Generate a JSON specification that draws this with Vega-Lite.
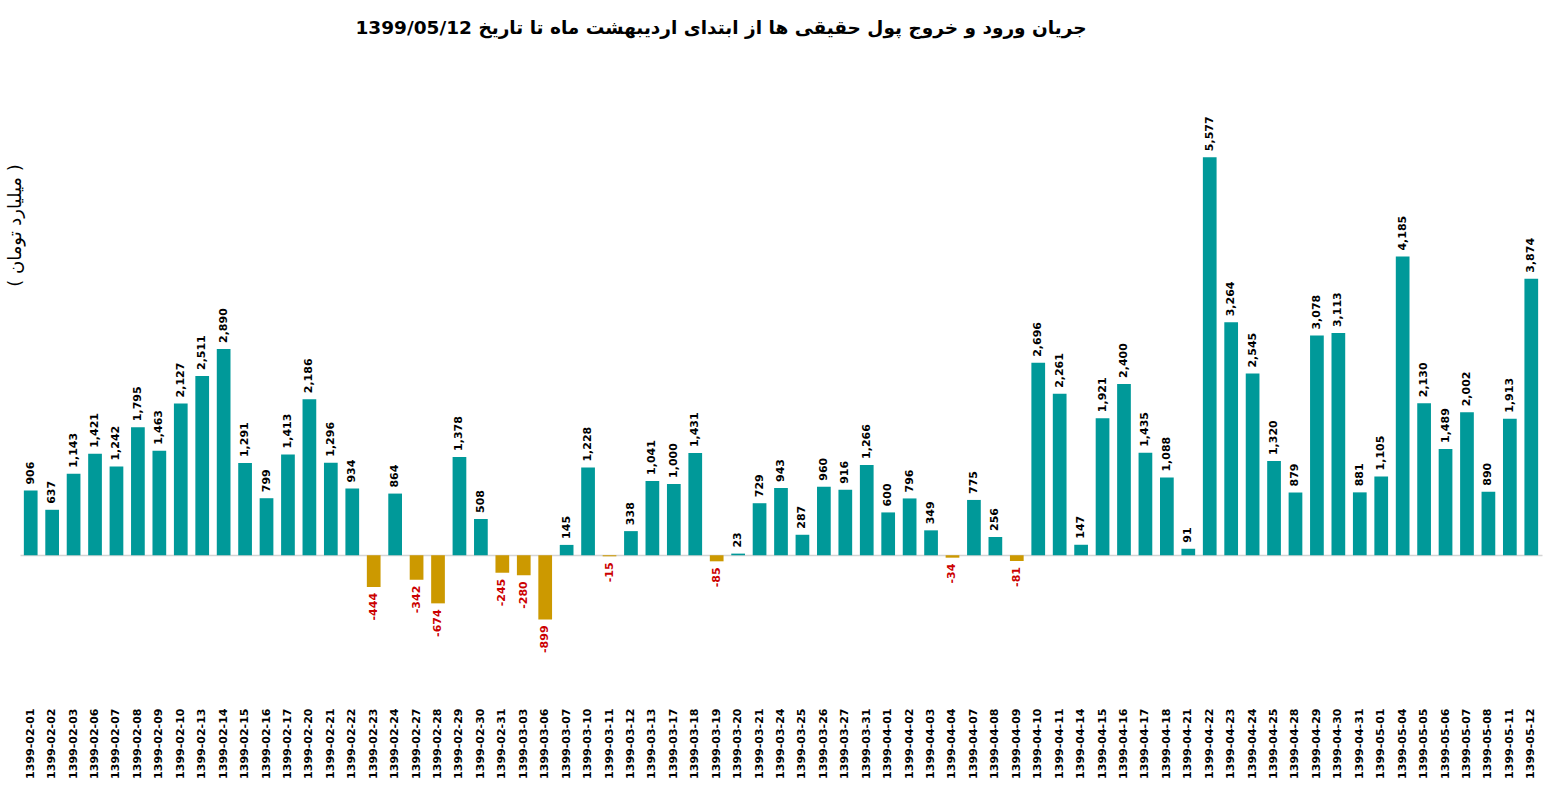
{
  "$schema": "https://vega.github.io/schema/vega-lite/v6.json",
  "autosize": "none",
  "padding": {"left": 20, "top": 127, "right": 8, "bottom": 99},
  "width": 1522,
  "height": 571,
  "config": {
    "view": {"stroke": null},
    "font": "DejaVu Sans"
  },
  "title": {
    "text": "جریان ورود و خروج پول حقیقی ها از ابتدای اردیبهشت ماه تا تاریخ 1399/05/12",
    "font": "DejaVu Sans",
    "fontSize": 18.5,
    "fontWeight": "bold",
    "color": "#000000",
    "frame": "group",
    "anchor": "middle",
    "baseline": "alphabetic",
    "offset": 64,
    "dx": -60
  },
  "data": {
    "values": [
      {"date": "1399-02-01", "value": 906},
      {"date": "1399-02-02", "value": 637},
      {"date": "1399-02-03", "value": 1143},
      {"date": "1399-02-06", "value": 1421},
      {"date": "1399-02-07", "value": 1242},
      {"date": "1399-02-08", "value": 1795},
      {"date": "1399-02-09", "value": 1463},
      {"date": "1399-02-10", "value": 2127},
      {"date": "1399-02-13", "value": 2511},
      {"date": "1399-02-14", "value": 2890},
      {"date": "1399-02-15", "value": 1291},
      {"date": "1399-02-16", "value": 799},
      {"date": "1399-02-17", "value": 1413},
      {"date": "1399-02-20", "value": 2186},
      {"date": "1399-02-21", "value": 1296},
      {"date": "1399-02-22", "value": 934},
      {"date": "1399-02-23", "value": -444},
      {"date": "1399-02-24", "value": 864},
      {"date": "1399-02-27", "value": -342},
      {"date": "1399-02-28", "value": -674},
      {"date": "1399-02-29", "value": 1378},
      {"date": "1399-02-30", "value": 508},
      {"date": "1399-02-31", "value": -245},
      {"date": "1399-03-03", "value": -280},
      {"date": "1399-03-06", "value": -899},
      {"date": "1399-03-07", "value": 145},
      {"date": "1399-03-10", "value": 1228},
      {"date": "1399-03-11", "value": -15},
      {"date": "1399-03-12", "value": 338},
      {"date": "1399-03-13", "value": 1041},
      {"date": "1399-03-17", "value": 1000},
      {"date": "1399-03-18", "value": 1431},
      {"date": "1399-03-19", "value": -85},
      {"date": "1399-03-20", "value": 23},
      {"date": "1399-03-21", "value": 729},
      {"date": "1399-03-24", "value": 943},
      {"date": "1399-03-25", "value": 287},
      {"date": "1399-03-26", "value": 960},
      {"date": "1399-03-27", "value": 916},
      {"date": "1399-03-31", "value": 1266},
      {"date": "1399-04-01", "value": 600},
      {"date": "1399-04-02", "value": 796},
      {"date": "1399-04-03", "value": 349},
      {"date": "1399-04-04", "value": -34},
      {"date": "1399-04-07", "value": 775},
      {"date": "1399-04-08", "value": 256},
      {"date": "1399-04-09", "value": -81},
      {"date": "1399-04-10", "value": 2696},
      {"date": "1399-04-11", "value": 2261},
      {"date": "1399-04-14", "value": 147},
      {"date": "1399-04-15", "value": 1921},
      {"date": "1399-04-16", "value": 2400},
      {"date": "1399-04-17", "value": 1435},
      {"date": "1399-04-18", "value": 1088},
      {"date": "1399-04-21", "value": 91},
      {"date": "1399-04-22", "value": 5577},
      {"date": "1399-04-23", "value": 3264},
      {"date": "1399-04-24", "value": 2545},
      {"date": "1399-04-25", "value": 1320},
      {"date": "1399-04-28", "value": 879},
      {"date": "1399-04-29", "value": 3078},
      {"date": "1399-04-30", "value": 3113},
      {"date": "1399-04-31", "value": 881},
      {"date": "1399-05-01", "value": 1105},
      {"date": "1399-05-04", "value": 4185},
      {"date": "1399-05-05", "value": 2130},
      {"date": "1399-05-06", "value": 1489},
      {"date": "1399-05-07", "value": 2002},
      {"date": "1399-05-08", "value": 890},
      {"date": "1399-05-11", "value": 1913},
      {"date": "1399-05-12", "value": 3874}
    ]
  },
  "encoding": {
    "x": {
      "field": "date",
      "type": "ordinal",
      "sort": null,
      "scale": {"paddingInner": 0.36, "paddingOuter": 0.18},
      "axis": {
        "title": null,
        "labelAngle": -90,
        "labelFont": "DejaVu Sans",
        "labelFontSize": 11,
        "labelFontWeight": "bold",
        "labelColor": "#000000",
        "labelPadding": 10,
        "ticks": false,
        "domain": false
      }
    },
    "y": {
      "field": "value",
      "type": "quantitative",
      "scale": {"domain": [-2000, 6000], "nice": false},
      "axis": {
        "title": "( میلیارد تومان )",
        "titleFont": "DejaVu Sans",
        "titleFontSize": 18,
        "titleFontWeight": "normal",
        "titleColor": "#000000",
        "titleAngle": 270,
        "titleAlign": "center",
        "titleBaseline": "middle",
        "titleX": -5,
        "titleY": 98,
        "labels": false,
        "ticks": false,
        "domain": false,
        "grid": true,
        "values": [0],
        "gridColor": "#d4d4d4",
        "gridWidth": 1.5
      }
    }
  },
  "layer": [
    {
      "mark": {"type": "bar"},
      "encoding": {
        "color": {
          "condition": {"test": "datum.value < 0", "value": "#CC9900"},
          "value": "#009999"
        }
      }
    },
    {
      "transform": [{"filter": "datum.value >= 0"}],
      "mark": {
        "type": "text",
        "angle": 270,
        "align": "left",
        "baseline": "middle",
        "dx": 6,
        "font": "DejaVu Sans",
        "fontSize": 11,
        "fontWeight": "bold",
        "color": "#000000"
      },
      "encoding": {
        "text": {"field": "value", "type": "quantitative", "format": ",d"}
      }
    },
    {
      "transform": [
        {"filter": "datum.value < 0"},
        {"calculate": "'-' + format(abs(datum.value), ',d')", "as": "label"}
      ],
      "mark": {
        "type": "text",
        "angle": 270,
        "align": "right",
        "baseline": "middle",
        "dx": -6,
        "font": "DejaVu Sans",
        "fontSize": 11,
        "fontWeight": "bold",
        "color": "#CC0000"
      },
      "encoding": {
        "text": {"field": "label", "type": "nominal"}
      }
    }
  ]
}
